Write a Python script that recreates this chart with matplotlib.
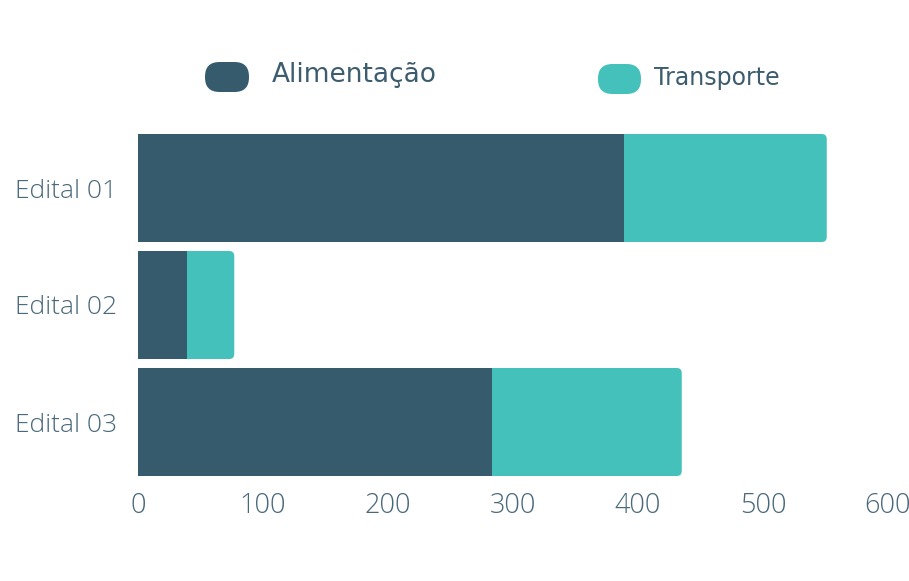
import matplotlib.pyplot as plt
from matplotlib.patches import FancyBboxPatch

# dados
editais = ['Edital 01', 'Edital 02', 'Edital 03']
alimentacao = [389, 39, 283]
transporte = [162, 38, 152]

cor_alim = '#365B6D'
cor_transp = '#43C1BA'
cor_texto = '#48687B'
cor_legenda = '#3D5C6E'

fig = plt.figure(figsize=(9.09, 5.81), dpi=100)
ax = fig.add_axes([138 / 909, 1 - 480.5 / 581, 750 / 909, 351 / 581])

h = 0.923
for i, (a, t) in enumerate(zip(alimentacao, transporte)):
    total = a + t
    # barra total com cantos arredondados, depois alimentação por cima
    r = 4.0
    box = FancyBboxPatch((0, i - h / 2), total, h,
                         boxstyle=f'round,pad=0,rounding_size={r}',
                         mutation_aspect=(5 / 117) / r,
                         facecolor=cor_transp, edgecolor='none')
    ax.add_patch(box)
ax.barh(range(len(editais)), alimentacao, height=h, color=cor_alim, zorder=3)

ax.set_xlim(0, 600)
ax.set_ylim(2.5, -0.5)
ax.set_yticks(range(len(editais)))
ax.set_yticklabels(editais)
ax.set_xticks([0, 100, 200, 300, 400, 500, 600])
for s in ax.spines.values():
    s.set_visible(False)
ax.tick_params(axis='both', length=0, colors=cor_texto)
ax.tick_params(axis='y', pad=15, labelsize=19)
ax.tick_params(axis='x', pad=8, labelsize=19.5)
for lab in ax.get_xticklabels() + ax.get_yticklabels():
    lab.set_family('Open Sans')
    lab.set_fontweight('light')

# legenda
def pilula(x0, y0, w, hgt, cor):
    p = FancyBboxPatch((x0 / 909, 1 - y0 / 581 - hgt / 581), w / 909, hgt / 581,
                       boxstyle='round,pad=0,rounding_size=0.016',
                       mutation_aspect=909 / 581,
                       transform=fig.transFigure, facecolor=cor, edgecolor='none')
    fig.patches.append(p)

pilula(205, 62, 44, 30, cor_alim)
pilula(598, 64, 43, 30, cor_transp)
fig.text(272 / 909, 1 - 82 / 581, 'Alimentação', fontsize=19, color=cor_legenda,
         family='DejaVu Sans', va='baseline', ha='left')
fig.text(654 / 909, 1 - 85 / 581, 'Transporte', fontsize=17, color=cor_legenda,
         family='DejaVu Sans', va='baseline', ha='left')

fig.savefig('out.png', dpi=100)
